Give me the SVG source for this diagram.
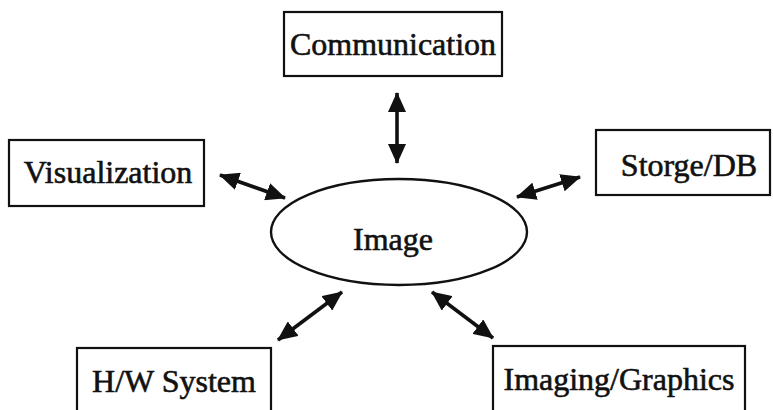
<svg xmlns="http://www.w3.org/2000/svg" width="773" height="410" viewBox="0 0 773 410">
  <style>
    .box { fill: #fff; stroke: #111; stroke-width: 2.2; }
    .hub { fill: #fff; stroke: #111; stroke-width: 2.4; }
    .label { font-family: "Liberation Serif", "Times New Roman", serif; font-size: 32px; fill: #111; stroke: #111; stroke-width: 0.6; text-anchor: middle; }
    .link { stroke: #111; stroke-width: 3.6; fill: none; marker-start: url(#head); marker-end: url(#head); }
  </style>
  <defs>
    <marker id="head" viewBox="0 0 20 18" refX="19" refY="9" markerWidth="20" markerHeight="18" markerUnits="userSpaceOnUse" orient="auto-start-reverse">
      <path d="M0,0 L20,9 L0,18 Z" fill="#111"/>
    </marker>
  </defs>
  <rect width="773" height="410" fill="#fff"/>

  <g id="connectors">
    <line class="link" x1="397" y1="93" x2="397" y2="163"/>
    <line class="link" x1="220" y1="175" x2="285" y2="198"/>
    <line class="link" x1="517" y1="197" x2="580" y2="177"/>
    <line class="link" x1="278" y1="340" x2="342" y2="292"/>
    <line class="link" x1="432" y1="292" x2="493" y2="338"/>
  </g>

  <g id="image">
    <ellipse class="hub" cx="399" cy="232" rx="128" ry="53"/>
    <text class="label" x="393" y="250">Image</text>
  </g>

  <g id="communication">
    <rect class="box" x="284" y="12" width="218" height="64"/>
    <text class="label" x="393" y="55">Communication</text>
  </g>

  <g id="visualization">
    <rect class="box" x="9" y="140" width="195" height="66"/>
    <text class="label" x="108" y="183">Visualization</text>
  </g>

  <g id="storage">
    <rect class="box" x="596" y="130" width="174" height="65"/>
    <text class="label" x="689" y="176">Storge/DB</text>
  </g>

  <g id="hw-system">
    <rect class="box" x="77" y="348" width="194" height="70"/>
    <text class="label" x="174" y="392">H/W System</text>
  </g>

  <g id="imaging-graphics">
    <rect class="box" x="493" y="346" width="252" height="72"/>
    <text class="label" x="619" y="390">Imaging/Graphics</text>
  </g>
</svg>
